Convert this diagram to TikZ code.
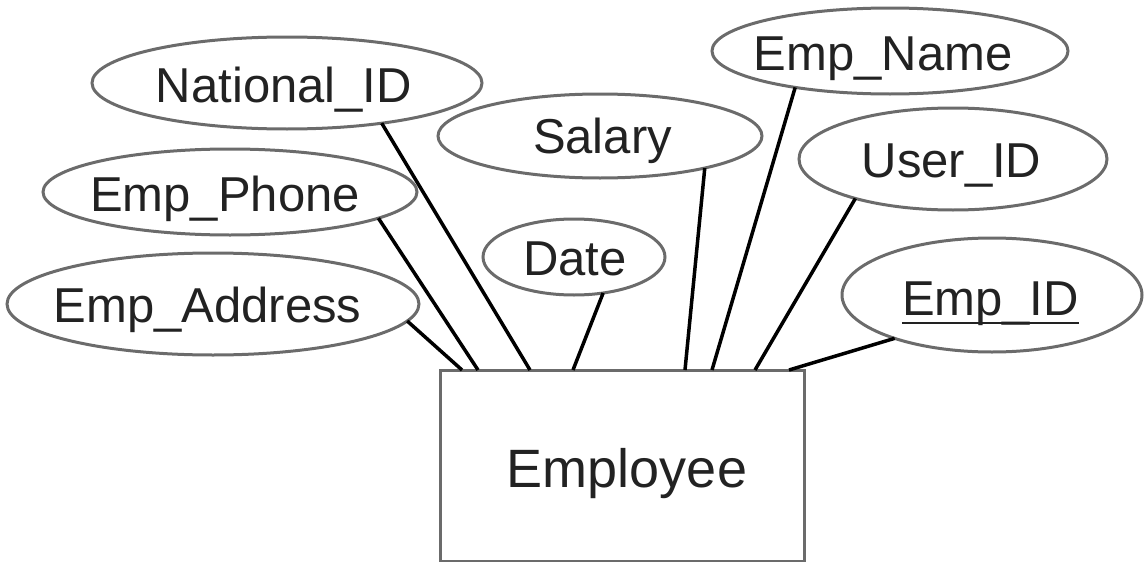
\documentclass[tikz,border=0pt]{standalone}
\usepackage{fontspec}
\setmainfont{Liberation Sans}
\usetikzlibrary{shapes.geometric,calc}
\definecolor{linec}{HTML}{6B6B6B}
\definecolor{textc}{HTML}{222222}
\begin{document}
\begin{tikzpicture}[x=1pt,y=-1pt,
  attr/.style={ellipse, draw=linec, line width=3pt, inner sep=0pt, outer sep=0pt},
  entity/.style={rectangle, draw=linec, line width=3pt, inner sep=0pt, outer sep=0pt, minimum width=364pt, minimum height=191pt},
  lbl/.style={font=\fontsize{49}{58}\selectfont, text=textc, inner sep=0pt, anchor=base},
  conn/.style={draw=black, line width=3.5pt}]
\useasboundingbox (0,0) rectangle (1144,562);

% entity
\node[entity] (emp) at (622,465.5) {};
\node[lbl, font=\fontsize{54}{64}\selectfont] (emptxt) at (627,487) {Employee};

% attributes
\node[attr, minimum width=390pt, minimum height=92pt] (natid) at (287,83) {};
\node[lbl] (natidtxt) at (284,102) {National\_ID};

\node[attr, minimum width=374pt, minimum height=86pt] (phone) at (230,192) {};
\node[lbl] (phonetxt) at (225,211) {Emp\_Phone};

\node[attr, minimum width=412pt, minimum height=102pt] (addr) at (213,304) {};
\node[lbl] (addrtxt) at (207.5,322) {Emp\_Address};

\node[attr, minimum width=324pt, minimum height=84pt] (salary) at (600,136) {};
\node[lbl] (salarytxt) at (602.5,153) {Salary};

\node[attr, minimum width=182pt, minimum height=76pt] (date) at (574,257) {};
\node[lbl] (datetxt) at (575,275) {Date};

\node[attr, minimum width=356pt, minimum height=86pt] (name) at (890,51) {};
\node[lbl] (nametxt) at (883,70) {Emp\_Name};

\node[attr, minimum width=308pt, minimum height=102pt] (user) at (953,159) {};
\node[lbl] (usertxt) at (951.5,177) {User\_ID};

\node[attr, minimum width=300pt, minimum height=114pt] (empid) at (992,295) {};
\node[lbl] (empidtxt) at (990.5,315) {Emp\_ID};
\draw[textc, line width=2.6pt] ($(empidtxt.base west)+(0,8)$) -- ($(empidtxt.base east)+(0,8)$);

% connector end points on the entity's top edge
\coordinate (tAddr)   at ($(emp.north west)+(22,0)$);
\coordinate (tPhone)  at ($(emp.north west)+(38,0)$);
\coordinate (tNat)    at ($(emp.north west)+(90,0)$);
\coordinate (tDate)   at ($(emp.north west)+(133,0)$);
\coordinate (tSalary) at ($(emp.north west)+(245,0)$);
\coordinate (tName)   at ($(emp.north west)+(272,0)$);
\coordinate (tUser)   at ($(emp.north west)+(315,0)$);
\coordinate (tEmpId)  at ($(emp.north west)+(349,0)$);

% connectors
\draw[conn] (addr.-5) -- (tAddr);
\draw[conn] (phone.-10) -- (tPhone);
\draw[conn] (natid.-23) -- (tNat);
\draw[conn] (date.-51) -- (tDate);
\draw[conn] (salary.-17) -- (tSalary);
\draw[conn] (name.-159) -- (tName);
\draw[conn] (user.-158) -- (tUser);
\draw[conn] (empid.-156) -- (tEmpId);
\end{tikzpicture}
\end{document}
